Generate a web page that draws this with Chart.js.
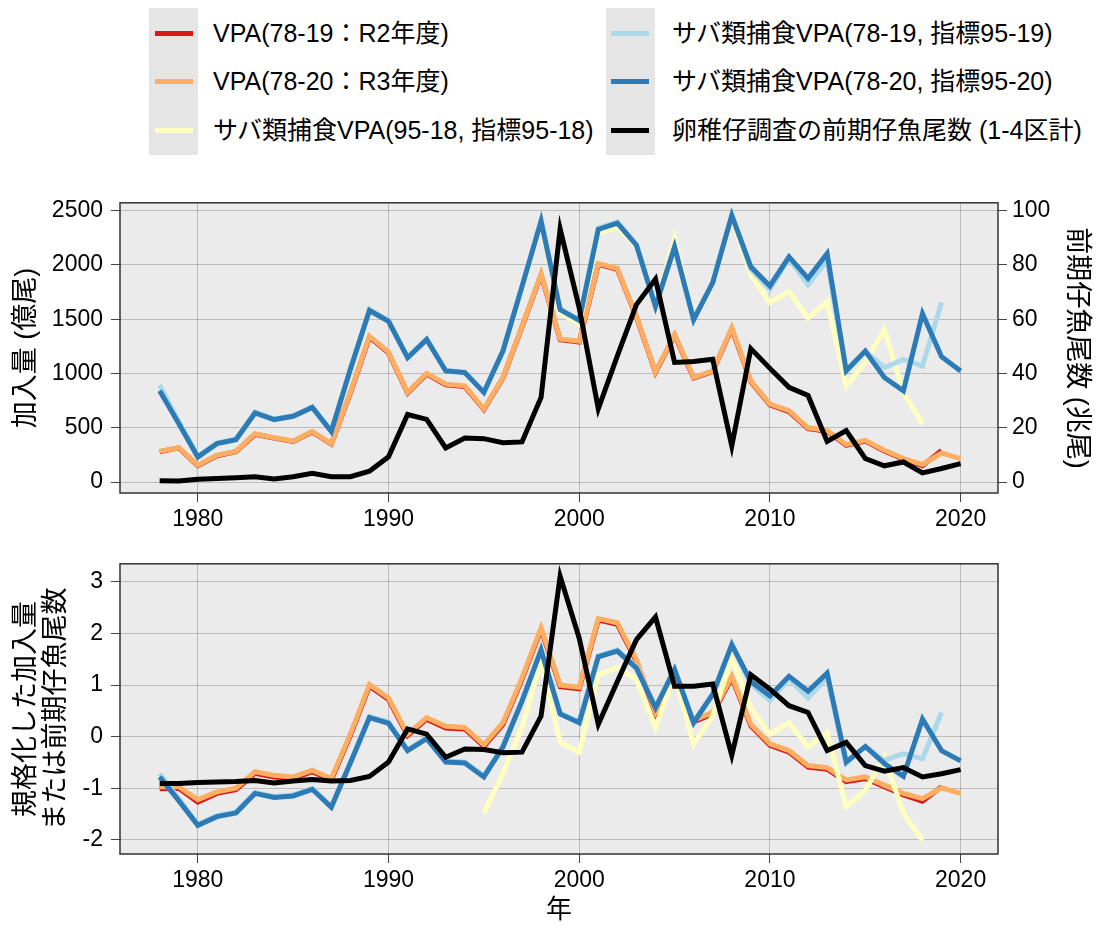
<!DOCTYPE html>
<html>
<head>
<meta charset="utf-8">
<script src="https://cdn.jsdelivr.net/npm/chart.js@4.4.1/dist/chart.umd.min.js"></script>
<style>
  body { margin:0; background:#fff; width:1101px; height:929px; overflow:hidden; position:relative;
         font-family:"Liberation Sans","Noto Sans CJK JP",sans-serif; }
  .box { position:absolute; background:#e5e5e5; top:8px; width:49px; height:147px; }
  .swatch { position:absolute; width:38px; height:5px; }
  .label { position:absolute; font-size:25px; line-height:30px; color:#000; white-space:nowrap; }
  .wrap { position:absolute; left:0; width:1101px; }
</style>
</head>
<body>
<div class="box" style="left:149px"></div>
<div class="box" style="left:606px"></div>
<div id="legend"></div>
<div class="wrap" style="top:181px;height:360px"><canvas id="top" width="1101" height="360"></canvas></div>
<div class="wrap" style="top:542px;height:387px"><canvas id="bottom" width="1101" height="387"></canvas></div>
<script>
// years
var years = [1978,1979,1980,1981,1982,1983,1984,1985,1986,1987,1988,1989,1990,1991,1992,1993,1994,1995,1996,1997,
             1998,1999,2000,2001,2002,2003,2004,2005,2006,2007,2008,2009,2010,2011,2012,2013,2014,2015,2016,2017,2018,2019,2020];
var years18 = [1995,1996,1997,1998,1999,2000,2001,2002,2003,2004,2005,2006,2007,2008,2009,2010,2011,2012,2013,2014,2015,2016,2017,2018];

// series labels / colours
var labels = ['VPA(78-19：R2年度)', 'VPA(78-20：R3年度)', 'サバ類捕食VPA(95-18, 指標95-18)',
              'サバ類捕食VPA(78-19, 指標95-19)', 'サバ類捕食VPA(78-20, 指標95-20)', '卵稚仔調査の前期仔魚尾数 (1-4区計)'];
var colors = ['#d7191c', '#fdae61', '#ffffbf', '#abd9e9', '#2c7bb6', '#000000'];

// top panel: recruitment (億尾) and larvae (兆尾)
var vpa19 = [280,315,150,243,280,440,405,375,462,350,820,1335,1190,820,995,897,880,668,958,1430,
             1910,1312,1290,2005,1960,1520,1010,1352,958,1018,1412,925,712,650,493,468,338,378,287,210,152,292];
var vpa20 = [283,317,155,247,283,445,408,378,466,354,826,1344,1197,826,1002,902,887,673,963,1435,
             1917,1319,1298,2014,1968,1526,1015,1359,963,1024,1420,932,719,658,500,475,345,384,293,217,162,268,217];
var saba18 = [830,1200,1790,2390,1560,1451,2290,2350,2170,1625,2242,1500,1850,2430,1907,1654,1755,1511,1663,887,1100,1405,826,536];
var saba19 = [893,560,240,360,398,645,582,612,694,472,1045,1590,1490,1150,1320,1030,1015,832,1212,1808,
              2410,1595,1497,2340,2398,2190,1625,2172,1502,1842,2460,1960,1777,2060,1817,2044,1036,1207,1054,1130,1069,1654];
var saba20 = [841,539,231,354,390,637,576,606,688,466,1039,1581,1481,1146,1313,1024,1009,826,1207,1801,
              2404,1588,1490,2328,2386,2182,1618,2166,1496,1837,2456,1983,1807,2075,1877,2105,1024,1207,963,841,1551,1155,1024];
var larvae = [0.5,0.4,1.0,1.3,1.6,2.0,1.1,2.0,3.2,2.0,2.0,4.0,9.3,24.9,23.1,12.6,16.2,16.0,14.5,14.8,
              31.2,93.3,64.2,27.0,46.5,65.4,74.8,44.1,44.4,45.3,13.3,49.2,41.9,34.9,31.9,15.0,19.0,8.7,6.0,7.4,3.4,5.0,6.8];

// bottom panel: standardised values
var nVpa19 = [-1.01,-1.00,-1.27,-1.10,-1.03,-0.71,-0.78,-0.81,-0.68,-0.84,0.02,0.98,0.72,0.02,0.34,0.17,0.15,-0.19,0.24,1.11,
              2.08,0.97,0.93,2.26,2.18,1.46,0.44,1.11,0.29,0.44,1.14,0.21,-0.17,-0.30,-0.59,-0.63,-0.87,-0.81,-0.97,-1.13,-1.25,-0.97];
var nVpa20 = [-0.97,-0.97,-1.22,-1.07,-1.00,-0.68,-0.75,-0.78,-0.65,-0.81,0.05,1.01,0.75,0.05,0.37,0.20,0.18,-0.16,0.27,1.14,
              2.11,1.00,0.96,2.29,2.21,1.49,0.47,1.14,0.32,0.47,1.17,0.24,-0.14,-0.27,-0.56,-0.60,-0.84,-0.78,-0.94,-1.10,-1.20,-0.99,-1.10];
var nSaba18 = [-1.48,-0.72,0.18,1.46,-0.11,-0.30,1.20,1.34,1.11,0.18,1.20,-0.14,0.40,1.52,0.56,0.05,0.27,-0.20,0.08,-1.36,-1.04,-0.40,-1.48,-2.01];
var nSaba19 = [-0.72,-1.20,-1.70,-1.53,-1.46,-1.08,-1.16,-1.13,-1.00,-1.35,-0.49,0.39,0.28,-0.25,-0.02,-0.47,-0.49,-0.76,-0.18,0.71,
               1.70,0.46,0.29,1.57,1.68,1.35,0.58,1.32,0.29,0.84,1.80,1.02,0.70,1.12,0.75,1.15,-0.52,-0.19,-0.46,-0.33,-0.43,0.47];
var nSaba20 = [-0.78,-1.24,-1.72,-1.55,-1.48,-1.10,-1.18,-1.15,-1.02,-1.37,-0.51,0.37,0.26,-0.27,-0.04,-0.49,-0.51,-0.78,-0.20,0.69,
               1.68,0.44,0.27,1.55,1.66,1.33,0.56,1.30,0.27,0.82,1.78,1.07,0.79,1.17,0.88,1.23,-0.49,-0.19,-0.52,-0.77,0.34,-0.27,-0.47];
var nLarvae = [-0.91,-0.91,-0.89,-0.88,-0.87,-0.85,-0.90,-0.86,-0.83,-0.86,-0.85,-0.77,-0.49,0.15,0.05,-0.40,-0.24,-0.25,-0.31,-0.30,
               0.40,3.11,1.91,0.24,1.07,1.88,2.32,0.98,0.98,1.02,-0.36,1.20,0.92,0.60,0.47,-0.27,-0.11,-0.56,-0.67,-0.60,-0.78,-0.72,-0.64];

// tick labels
var xTicks = [1980,1990,2000,2010,2020];
var leftTicks = [0,500,1000,1500,2000,2500];
var rightTicks = [0,20,40,60,80,100];
var normTicks = [-2,-1,0,1,2,3];

var FONT = '"Liberation Sans","Noto Sans CJK JP",sans-serif';

// legend (html, two columns)
(function(){
  var leg = document.getElementById('legend');
  var rows = [33, 81, 130];
  labels.forEach(function(txt, i){
    var col = i < 3 ? 0 : 1, r = i % 3;
    var sx = col ? 611 : 155, tx = col ? 672 : 213;
    var s = document.createElement('div');
    s.className = 'swatch';
    s.style.left = sx + 'px'; s.style.top = (rows[r] - 2.5) + 'px'; s.style.background = colors[i];
    leg.appendChild(s);
    var t = document.createElement('div');
    t.className = 'label';
    t.style.left = tx + 'px'; t.style.top = (rows[r] - 15) + 'px';
    t.textContent = txt;
    leg.appendChild(t);
  });
})();

function pts(xs, ys){ return ys.map(function(v, i){ return {x: xs[i], y: v}; }); }

function line(i, xs, ys, order, axis){
  return {
    label: labels[i], data: pts(xs, ys), borderColor: colors[i], backgroundColor: colors[i],
    borderWidth: 5, pointRadius: 0, tension: 0, fill: false, order: order,
    borderJoinStyle: 'miter', borderCapStyle: 'butt', yAxisID: axis || 'y'
  };
}

var framePlugin = {
  id: 'frame',
  beforeDraw: function(chart){
    var a = chart.chartArea, ctx = chart.ctx;
    ctx.save(); ctx.fillStyle = '#ebebeb'; ctx.fillRect(a.left, a.top, a.width, a.height); ctx.restore();
  },
  afterDraw: function(chart){
    var a = chart.chartArea, ctx = chart.ctx;
    ctx.save(); ctx.strokeStyle = '#333'; ctx.lineWidth = 1.5;
    ctx.strokeRect(a.left, a.top, a.width, a.height); ctx.restore();
  }
};

function fixTicks(list){ return function(scale){ scale.ticks = list.map(function(v){ return {value: v}; }); }; }
function plain(v){ return String(v); }

function xAxis(h, title){
  return {
    type: 'linear', min: 1975.92, max: 2021.96,
    afterBuildTicks: fixTicks(xTicks),
    afterFit: function(s){ s.height = h; },
    grid: { color: 'rgba(0,0,0,0.2)', tickColor: '#444', tickLength: 9, lineWidth: 1 },
    border: { display: false },
    ticks: { color: '#000', font: { size: 23, family: FONT }, padding: 4, maxRotation: 0, callback: plain },
    title: title ? { display: true, text: title, color: '#000', font: { size: 26, family: FONT }, padding: { bottom: 3, top: 0 } }
                 : { display: false }
  };
}

var common = {
  responsive: false, animation: false, events: [],
  plugins: { legend: { display: false }, tooltip: { enabled: false } }
};

new Chart(document.getElementById('top'), {
  type: 'line',
  data: { datasets: [
    line(0, years, vpa19, 6),
    line(1, years, vpa20, 5),
    line(2, years18, saba18, 4),
    line(3, years, saba19, 3),
    line(4, years, saba20, 2),
    line(5, years, larvae, 1, 'y2')
  ]},
  options: Object.assign({}, common, {
    layout: { padding: { top: 20, left: 0, right: 0, bottom: 0 } },
    scales: {
      x: xAxis(48),
      y: {
        position: 'left', min: -100.6, max: 2573,
        afterBuildTicks: fixTicks(leftTicks),
        afterFit: function(s){ s.width = 120; },
        grid: { color: 'rgba(0,0,0,0.2)', tickColor: '#444', tickLength: 9 },
        border: { display: false },
        ticks: { color: '#000', font: { size: 23, family: FONT }, padding: 8, callback: plain },
        title: { display: true, text: '加入量 (億尾)', color: '#000', font: { size: 27, family: FONT }, padding: { top: 10, bottom: 0 } }
      },
      y2: {
        position: 'right', min: -4.024, max: 102.92,
        afterBuildTicks: fixTicks(rightTicks),
        afterFit: function(s){ s.width = 103; },
        grid: { drawOnChartArea: false, tickColor: '#444', tickLength: 9 },
        border: { display: false },
        ticks: { color: '#000', font: { size: 23, family: FONT }, padding: 5, callback: plain },
        title: { display: true, text: '前期仔魚尾数 (兆尾)', color: '#000', font: { size: 27, family: FONT }, padding: { top: 8, bottom: 0 } }
      }
    }
  }),
  plugins: [framePlugin]
});

new Chart(document.getElementById('bottom'), {
  type: 'line',
  data: { datasets: [
    line(0, years, nVpa19, 6),
    line(1, years, nVpa20, 5),
    line(2, years18, nSaba18, 4),
    line(3, years, nSaba19, 3),
    line(4, years, nSaba20, 2),
    line(5, years, nLarvae, 1)
  ]},
  options: Object.assign({}, common, {
    layout: { padding: { top: 20, left: 0, right: 103, bottom: 0 } },
    scales: {
      x: xAxis(75, '年'),
      y: {
        position: 'left', min: -2.275, max: 3.352,
        afterBuildTicks: fixTicks(normTicks),
        afterFit: function(s){ s.width = 120; },
        grid: { color: 'rgba(0,0,0,0.2)', tickColor: '#444', tickLength: 9 },
        border: { display: false },
        ticks: { color: '#000', font: { size: 23, family: FONT }, padding: 8, callback: plain },
        title: { display: true, text: ['規格化した加入量', 'または前期仔魚尾数'], color: '#000',
                 font: { size: 27, family: FONT, lineHeight: '30px' }, padding: { top: 12, bottom: 0 } }
      }
    }
  }),
  plugins: [framePlugin]
});
</script>
</body>
</html>
